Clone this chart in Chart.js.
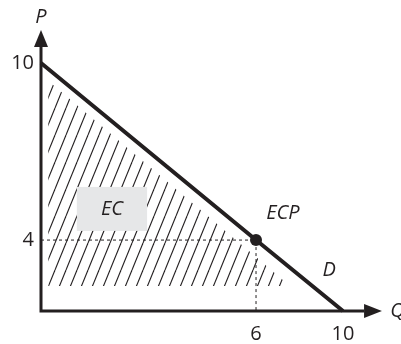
<!DOCTYPE html>
<html>
<head>
<meta charset="utf-8">
<script src="https://cdn.jsdelivr.net/npm/chart.js@4"></script>
<style>
  html, body { margin: 0; padding: 0; background: #fff; }
  #wrap { width: 401px; height: 344px; }
</style>
</head>
<body>
<div id="wrap"><canvas id="grafico" width="401" height="344"></canvas></div>
<script>
// valores
const Q_TICKS = [6, 10]
const P_TICKS = [4, 10]
const DEMANDA_Q = [0, 6, 10]
const DEMANDA_P = [10, 4, 0]
const EQUILIBRIO_Q = [6]
const EQUILIBRIO_P = [4]
const EC_Q = [0.2, 5.44, 6, 7.56]
const EC_P = [9.4, 4, 3.05, 1.41]
const EC_BASE = 1.41

// a figura nao esta em escala: 6 e 4 ficam onde o ponto cai na reta
const NOS = {
    x: [[0, 0], [6, 0.712], [10, 1]],
    y: [[0, 0], [4, 0.286], [10, 1]]
}

function interp(tab, v, de, para) {
    let i = 1
    while (i < tab.length - 1 && v > tab[i][de]) i++
    const a = tab[i - 1], b = tab[i]
    return a[para] + (v - a[de]) * (b[para] - a[para]) / (b[de] - a[de])
}

class EscalaPorPartes extends Chart.LinearScale {
    getPixelForValue(value) {
        if (value === null || value === undefined) return NaN
        return this.getPixelForDecimal(interp(NOS[this.axis], value, 0, 1))
    }
    getValueForPixel(pixel) {
        return interp(NOS[this.axis], this.getDecimalForPixel(pixel), 1, 0)
    }
}
EscalaPorPartes.id = 'porpartes'
EscalaPorPartes.defaults = Chart.LinearScale.defaults
Chart.register(EscalaPorPartes)

const COR = '#231f20'
const FONTE = '"Open Sans", "Noto Sans", sans-serif'

// padrao de hachura
const tile = document.createElement('canvas')
tile.width = 11
tile.height = 27
const tc = tile.getContext('2d')
tc.strokeStyle = COR
tc.lineWidth = 1.1
for (const off of [-11, 0, 11]) {
    tc.beginPath()
    tc.moveTo(off, 27)
    tc.lineTo(off + 11, 0)
    tc.stroke()
}
const hachura = document.getElementById('grafico').getContext('2d').createPattern(tile, 'repeat')

const eixosESetas = {
    id: 'eixosESetas',
    afterDatasetsDraw(chart) {
        const ctx = chart.ctx
        const x = chart.scales.x, y = chart.scales.y
        const px = (q, p) => [x.getPixelForValue(q), y.getPixelForValue(p)]
        ctx.save()

        // caixa EC
        const [bx0, by0] = px(1.0, 5.8)
        const [bx1, by1] = px(2.96, 4.31)
        ctx.fillStyle = '#e6e7e8'
        ctx.fillRect(bx0, by0, bx1 - bx0, by1 - by0)

        // eixos
        const [ox, oy] = px(0, 0)
        const [, yTopo] = px(0, 10.54)
        const [xFim] = px(10.97, 0)
        ctx.strokeStyle = COR
        ctx.lineWidth = 3
        ctx.beginPath()
        ctx.moveTo(ox, yTopo)
        ctx.lineTo(ox, oy)
        ctx.lineTo(xFim, oy)
        ctx.stroke()

        // setas
        const [, yPonta] = px(0, 11.12)
        const [xPonta] = px(11.79, 0)
        ctx.fillStyle = COR
        ctx.beginPath()
        ctx.moveTo(ox, yPonta)
        ctx.lineTo(ox - 7, yTopo)
        ctx.lineTo(ox + 7, yTopo)
        ctx.closePath()
        ctx.fill()
        ctx.beginPath()
        ctx.moveTo(xPonta, oy)
        ctx.lineTo(xFim, oy - 7)
        ctx.lineTo(xFim, oy + 7)
        ctx.closePath()
        ctx.fill()

        // rotulos
        ctx.font = 'italic 20px ' + FONTE
        ctx.textAlign = 'center'
        ctx.textBaseline = 'middle'
        const rotulos = [
            ['P', 0, 11.56],
            ['Q', 12.5, 0],
            ['EC', 1.98, 5.05],
            ['ECP', 7.24, 4.92],
            ['D', 9.36, 2.31]
        ]
        for (const [t, q, p] of rotulos) {
            const [lx, ly] = px(q, p)
            ctx.fillText(t, lx, ly)
        }
        ctx.restore()
    }
}

const eixoComum = {
    type: 'porpartes',
    min: 0,
    max: 10,
    grid: { display: false, drawTicks: false },
    border: { display: false },
    ticks: {
        font: { family: FONTE, size: 20 },
        color: COR,
        autoSkip: false,
        maxRotation: 0
    }
}

new Chart(document.getElementById('grafico'), {
    type: 'line',
    data: {
        datasets: [
            {
                label: 'ECP',
                data: EQUILIBRIO_Q.map((q, i) => ({ x: q, y: EQUILIBRIO_P[i] })),
                showLine: false,
                pointRadius: 6,
                pointBackgroundColor: COR,
                pointBorderWidth: 0,
                clip: false,
                order: 0
            },
            {
                label: 'D',
                data: DEMANDA_Q.map((q, i) => ({ x: q, y: DEMANDA_P[i] })),
                borderColor: COR,
                borderWidth: 4,
                pointRadius: 0,
                tension: 0,
                clip: false,
                order: 1
            },
            {
                label: 'guias',
                data: [{ x: 0, y: EQUILIBRIO_P[0] }, { x: EQUILIBRIO_Q[0], y: EQUILIBRIO_P[0] }, { x: EQUILIBRIO_Q[0], y: 0 }],
                borderColor: COR,
                borderWidth: 1,
                borderDash: [3, 3],
                pointRadius: 0,
                tension: 0,
                clip: false,
                order: 2
            },
            {
                label: 'EC',
                data: EC_Q.map((q, i) => ({ x: q, y: EC_P[i] })),
                borderWidth: 0,
                backgroundColor: hachura,
                fill: { value: EC_BASE },
                pointRadius: 0,
                tension: 0,
                order: 3
            }
        ]
    },
    options: {
        responsive: false,
        animation: false,
        events: [],
        layout: { padding: { left: 0, right: 58, top: 63, bottom: 0 } },
        plugins: {
            legend: { display: false },
            tooltip: { enabled: false }
        },
        scales: {
            x: Object.assign({}, eixoComum, {
                position: 'bottom',
                ticks: Object.assign({}, eixoComum.ticks, { padding: 11 }),
                afterBuildTicks: s => { s.ticks = Q_TICKS.map(v => ({ value: v })) },
                afterFit: s => { s.height = 33 }
            }),
            y: Object.assign({}, eixoComum, {
                position: 'left',
                ticks: Object.assign({}, eixoComum.ticks, { padding: 7 }),
                afterBuildTicks: s => { s.ticks = P_TICKS.map(v => ({ value: v })) },
                afterFit: s => { s.width = 41 }
            })
        }
    },
    plugins: [eixosESetas]
})
</script>
</body>
</html>
